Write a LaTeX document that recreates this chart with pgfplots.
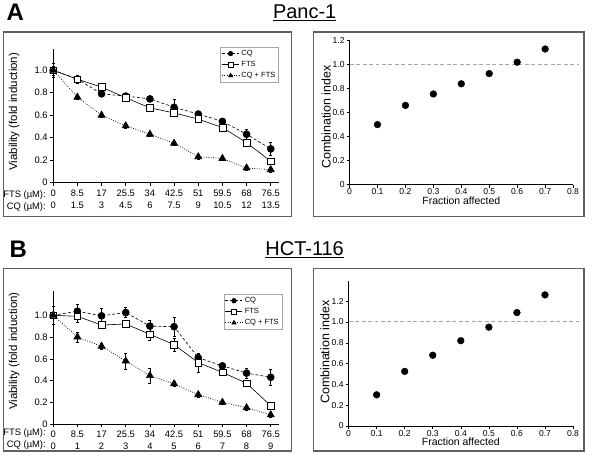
\documentclass[border=0pt]{standalone}
\usepackage{fontspec}
\setmainfont{Liberation Sans}
\usepackage{pgfplots}
\pgfplotsset{compat=1.18}
\definecolor{frame}{HTML}{606060}
\pgfplotsset{
  viab/.style={
    scale only axis, width=226pt, anchor=south west, clip=false,
    axis lines=left, axis line style={-, line width=0.6pt},
    tick align=outside, major tick length=3pt, tick style={black, line width=0.5pt},
    xmin=0, xmax=9.33, ymin=0,
    xtick={0,...,9},
    ytick={0,0.2,0.4,0.6,0.8,1.0},
    yticklabels={0,0.2,0.4,0.6,0.8,1.0},
    yticklabel style={font=\fontsize{9.4}{11}\selectfont, xshift=1pt, inner ysep=1pt},
    xticklabel style={align=center, font=\fontsize{9.4}{12}\selectfont, yshift=-0.5pt},
    ylabel style={font=\fontsize{11.5}{13}\selectfont, anchor=center, rotate=0},
    legend cell align=left,
    legend style={font=\fontsize{7.5}{8.5}\selectfont, draw=gray!70, line width=0.4pt,
      inner sep=1.2pt, row sep=0.3pt, anchor=north east},
    legend image post style={mark size=2.3pt},
    error bars/y dir=both, error bars/y explicit,
    error bars/error bar style={black, line width=0.5pt, solid},
    error bars/error mark options={rotate=90, mark size=1.5pt, black},
  },
  cq/.style={black, line width=0.6pt, dash pattern=on 3pt off 2pt, mark=*, mark size=3.5pt, mark options={solid, fill=black}},
  fts/.style={black, line width=0.6pt, solid, mark=square*, mark size=3.4pt, mark options={solid, fill=white}},
  cmb/.style={black, line width=0.7pt, dash pattern=on 0.8pt off 1.6pt, mark=triangle*, mark size=4pt, mark options={solid, fill=black}},
  ci/.style={
    scale only axis, anchor=south west, clip=false,
    axis lines=left, axis line style={-, line width=0.6pt},
    tick align=outside, major tick length=3pt, tick style={black, line width=0.5pt},
    xmin=0, xmax=0.8, ymin=0,
    xtick={0,0.1,...,0.8},
    xticklabels={0,0.1,0.2,0.3,0.4,0.5,0.6,0.7,0.8},
    ticklabel style={font=\fontsize{8.6}{9.5}\selectfont},
    xticklabel style={yshift=2.5pt},
    yticklabel style={xshift=1.5pt},
    xlabel={Fraction affected},
    ylabel={Combination index},
    xlabel style={font=\fontsize{10.5}{12}\selectfont, anchor=center},
    ylabel style={font=\fontsize{12.5}{14}\selectfont, anchor=center},
  },
}
\begin{document}
\begin{tikzpicture}[x=1pt,y=1pt]
\path (0,0) rectangle (596,458);
% frames
\draw[frame, line width=1.2pt] (2,241) rectangle (291,426);
\draw[frame, line width=1.2pt] (313,241) rectangle (584,426);
\draw[frame, line width=1.2pt] (2,6) rectangle (291,189);
\draw[frame, line width=1.2pt] (313,6) rectangle (584,189);
% titles
\node[font=\fontsize{24}{26}\selectfont\bfseries] at (14,446) {A};
\node[font=\fontsize{24}{26}\selectfont\bfseries] at (17,208) {B};
\node[font=\fontsize{20}{22}\selectfont] at (304,445) {\underline{Panc-1}};
\node[font=\fontsize{20}{22}\selectfont] at (304,208) {\underline{HCT-116}};

% ---------- A left ----------
\begin{axis}[viab, at={(52pt,275pt)}, height=134pt, ymax=1.19,
  xticklabels={{0\\0},{8.5\\1.5},{17\\3},{25.5\\4.5},{34\\6},{42.5\\7.5},{51\\9},{59.5\\10.5},{68\\12},{76.5\\13.5}},
  ylabel={Viability (fold induction)},
  ylabel style={at={(axis description cs:-0.173,0.53)}},
  legend style={at={(axis description cs:1.0,1.015)}},
]
\addplot[cq, error bars/.cd, y dir=both, y explicit] table[x=x, y=y, y error=e] {
x y e
0 1.00 0.06
1 0.92 0.03
2 0.79 0.02
3 0.77 0.02
4 0.745 0.02
5 0.67 0.07
6 0.61 0.02
7 0.545 0.02
8 0.43 0.045
9 0.30 0.06
};
\addlegendentry{CQ}
\addplot[fts, error bars/.cd, y dir=both, y explicit] table[x=x, y=y, y error=e] {
x y e
0 1.00 0.03
1 0.92 0.035
2 0.85 0.02
3 0.755 0.02
4 0.665 0.02
5 0.62 0.02
6 0.565 0.02
7 0.49 0.02
8 0.355 0.02
9 0.19 0.02
};
\addlegendentry{FTS}
\addplot[cmb, error bars/.cd, y dir=both, y explicit] table[x=x, y=y, y error=e] {
x y e
0 1.00 0.04
1 0.76 0.02
2 0.60 0.02
3 0.505 0.02
4 0.43 0.02
5 0.35 0.02
6 0.23 0.02
7 0.215 0.02
8 0.13 0.02
9 0.115 0.02
};
\addlegendentry{CQ + FTS}
\end{axis}
\node[anchor=east, font=\fontsize{9.4}{11}\selectfont] at (48,262.5) {FTS (µM):};
\node[anchor=east, font=\fontsize{9.4}{11}\selectfont] at (48,250.5) {CQ (µM):};

% ---------- A right ----------
\begin{axis}[ci, at={(349pt,273pt)}, width=224pt, height=144.3pt, ymax=1.2,
  ytick={0,0.2,...,1.2}, yticklabels={0,0.2,0.4,0.6,0.8,1.0,1.2},
  ylabel style={at={(axis description cs:-0.105,0.47)}},
  xlabel style={at={(axis description cs:0.5,-0.112)}},
]
\addplot[gray!70, line width=0.7pt, dash pattern=on 4pt off 2.5pt] coordinates {(0,1.0) (0.82,1.0)};
\addplot[only marks, mark=*, mark size=3.4pt, black] coordinates {
(0.1,0.50) (0.2,0.66) (0.3,0.755) (0.4,0.84) (0.5,0.925) (0.6,1.02) (0.7,1.13)};
\end{axis}

% ---------- B left ----------
\begin{axis}[viab, at={(52pt,33pt)}, height=133pt, ymax=1.22,
  xticklabels={{0\\0},{8.5\\1},{17\\2},{25.5\\3},{34\\4},{42.5\\5},{51\\6},{59.5\\7},{68\\8},{76.5\\9}},
  ylabel={Viability (fold induction)},
  ylabel style={at={(axis description cs:-0.173,0.55)}},
  legend style={at={(axis description cs:1.015,0.98)}},
]
\addplot[cq, error bars/.cd, y dir=both, y explicit] table[x=x, y=y, y error=e] {
x y e
0 1.00 0.08
1 1.037 0.065
2 0.995 0.07
3 1.025 0.045
4 0.90 0.055
5 0.895 0.09
6 0.61 0.03
7 0.535 0.02
8 0.468 0.045
9 0.43 0.075
};
\addlegendentry{CQ}
\addplot[fts, error bars/.cd, y dir=both, y explicit] table[x=x, y=y, y error=e] {
x y e
0 1.00 0.03
1 0.99 0.05
2 0.91 0.03
3 0.92 0.03
4 0.825 0.055
5 0.73 0.06
6 0.565 0.09
7 0.475 0.02
8 0.375 0.02
9 0.168 0.02
};
\addlegendentry{FTS}
\addplot[cmb, error bars/.cd, y dir=both, y explicit] table[x=x, y=y, y error=e] {
x y e
0 1.00 0.03
1 0.80 0.045
2 0.715 0.03
3 0.58 0.075
4 0.445 0.065
5 0.37 0.02
6 0.27 0.02
7 0.20 0.02
8 0.15 0.02
9 0.085 0.02
};
\addlegendentry{CQ + FTS}
\end{axis}
\node[anchor=east, font=\fontsize{9.4}{11}\selectfont] at (48,23.5) {FTS (µM):};
\node[anchor=east, font=\fontsize{9.4}{11}\selectfont] at (48,11.5) {CQ (µM):};

% ---------- B right ----------
\begin{axis}[ci, at={(348pt,31pt)}, width=225pt, height=145pt, ymax=1.39,
  ytick={0,0.2,...,1.2}, yticklabels={0,0.2,0.4,0.6,0.8,1.0,1.2},
  ylabel style={at={(axis description cs:-0.105,0.51)}},
  xlabel style={at={(axis description cs:0.5,-0.112)}},
]
\addplot[gray!70, line width=0.7pt, dash pattern=on 4pt off 2.5pt] coordinates {(0,1.01) (0.82,1.01)};
\addplot[only marks, mark=*, mark size=3.4pt, black] coordinates {
(0.1,0.30) (0.2,0.525) (0.3,0.68) (0.4,0.82) (0.5,0.95) (0.6,1.09) (0.7,1.26)};
\end{axis}
\end{tikzpicture}
\end{document}
